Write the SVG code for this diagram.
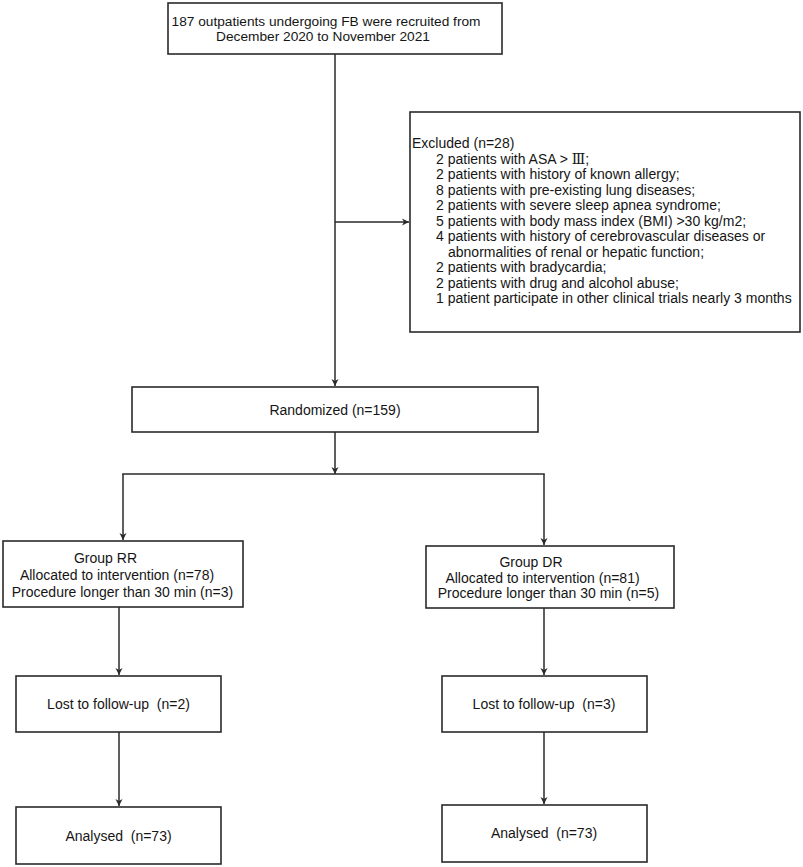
<svg xmlns="http://www.w3.org/2000/svg" width="803" height="867" viewBox="0 0 803 867">
<defs>
<style>
.box{fill:#fff;stroke:#2a2a2a;stroke-width:1.6}
.t{font-family:"Liberation Sans",Arial,sans-serif;font-size:14px;fill:#151515;white-space:pre}
.ln{stroke:#2a2a2a;stroke-width:1.5;fill:none}
.rn{font-family:"Liberation Serif","DejaVu Serif","Noto Sans CJK SC",serif}
</style>
<marker id="ah" markerWidth="8" markerHeight="8" refX="7" refY="4" orient="auto" markerUnits="userSpaceOnUse">
<path d="M0,0.5 L7,4 L0,7.5 L2,4 z" fill="#2a2a2a"/>
</marker>
</defs>
<rect width="803" height="867" fill="#fff"/>
<g id="connectors">
<line class="ln" x1="335" y1="54" x2="335" y2="386" marker-end="url(#ah)"/>
<line class="ln" x1="335" y1="222" x2="409" y2="222" marker-end="url(#ah)"/>
<line class="ln" x1="335" y1="432" x2="335" y2="474" marker-end="url(#ah)"/>
<line class="ln" x1="122.25" y1="474" x2="544.75" y2="474"/>
<line class="ln" x1="123" y1="474" x2="123" y2="540" marker-end="url(#ah)"/>
<line class="ln" x1="544" y1="474" x2="544" y2="545" marker-end="url(#ah)"/>
<line class="ln" x1="119" y1="607" x2="119" y2="675" marker-end="url(#ah)"/>
<line class="ln" x1="119" y1="732" x2="119" y2="806" marker-end="url(#ah)"/>
<line class="ln" x1="544" y1="608" x2="544" y2="675" marker-end="url(#ah)"/>
<line class="ln" x1="544" y1="732" x2="544" y2="804" marker-end="url(#ah)"/>
</g>
<g id="recruited">
<rect class="box" x="168" y="3" width="334" height="51"/>
<text class="t" x="326" y="26" text-anchor="middle" style="font-size:13.7px">187 outpatients undergoing FB were recruited from</text>
<text class="t" x="323" y="41" text-anchor="middle" style="font-size:13.7px">December 2020 to November 2021</text>
</g>
<g id="excluded">
<rect class="box" x="410" y="112" width="390" height="220"/>
<text class="t" x="412" y="148">Excluded (n=28)</text>
<text class="t" x="436" y="163.5">2 patients with ASA &gt; <tspan class="rn">Ⅲ</tspan>;</text>
<text class="t" x="436" y="179">2 patients with history of known allergy;</text>
<text class="t" x="436" y="194.5">8 patients with pre-existing lung diseases;</text>
<text class="t" x="436" y="210">2 patients with severe sleep apnea syndrome;</text>
<text class="t" x="436" y="225.5">5 patients with body mass index (BMI) &gt;30 kg/m2;</text>
<text class="t" x="436" y="241">4 patients with history of cerebrovascular diseases or</text>
<text class="t" x="448" y="256.5">abnormalities of renal or hepatic function;</text>
<text class="t" x="436" y="272">2 patients with bradycardia;</text>
<text class="t" x="436" y="287.5">2 patients with drug and alcohol abuse;</text>
<text class="t" x="436" y="303">1 patient participate in other clinical trials nearly 3 months</text>
</g>
<g id="randomized">
<rect class="box" x="132" y="387" width="406" height="45"/>
<text class="t" x="335" y="415" text-anchor="middle">Randomized (n=159)</text>
</g>
<g id="group-rr">
<rect class="box" x="3" y="541" width="240" height="66"/>
<text class="t" x="105.5" y="563" text-anchor="middle">Group RR</text>
<text class="t" x="117" y="580" text-anchor="middle">Allocated to intervention (n=78)</text>
<text class="t" x="122.5" y="597" text-anchor="middle">Procedure longer than 30 min (n=3)</text>
</g>
<g id="group-dr">
<rect class="box" x="426" y="546" width="248" height="62"/>
<text class="t" x="531" y="567" text-anchor="middle">Group DR</text>
<text class="t" x="542.5" y="583" text-anchor="middle">Allocated to intervention (n=81)</text>
<text class="t" x="548.5" y="598" text-anchor="middle">Procedure longer than 30 min (n=5)</text>
</g>
<g id="lost-rr">
<rect class="box" x="16" y="676" width="205" height="56"/>
<text class="t" x="118.5" y="709" text-anchor="middle">Lost to follow-up  (n=2)</text>
</g>
<g id="analysed-rr">
<rect class="box" x="16" y="807" width="205" height="57"/>
<text class="t" x="118.5" y="841" text-anchor="middle">Analysed  (n=73)</text>
</g>
<g id="lost-dr">
<rect class="box" x="442" y="676" width="205" height="56"/>
<text class="t" x="544" y="709" text-anchor="middle">Lost to follow-up  (n=3)</text>
</g>
<g id="analysed-dr">
<rect class="box" x="442" y="805" width="205" height="57"/>
<text class="t" x="544" y="838" text-anchor="middle">Analysed  (n=73)</text>
</g>
</svg>
